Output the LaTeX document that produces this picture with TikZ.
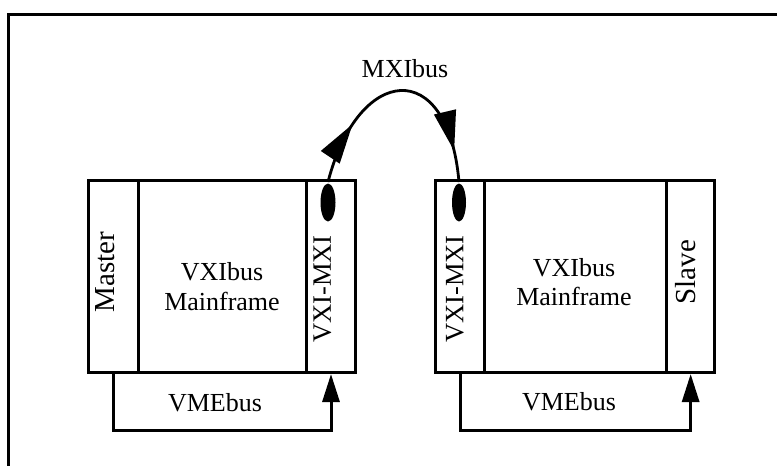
\documentclass[tikz,border=0pt]{standalone}
\usepackage{fontspec}
\setmainfont{Liberation Serif}
\usetikzlibrary{arrows.meta,decorations.markings,shapes.geometric}
\begin{document}
\begin{tikzpicture}[x=1pt,y=-1pt,line width=3pt,
  panel/.style={draw,line width=3pt,inner sep=0pt,minimum height=191.7pt,anchor=north west},
  txt/.style={inner sep=0pt,font=\fontsize{26}{30}\selectfont},
  side/.style={inner sep=0pt,rotate=90,font=\fontsize{29}{34}\selectfont},
  vmx/.style={inner sep=0pt,rotate=90,font=\fontsize{26.5}{30}\selectfont},
  plug/.style={ellipse,fill=black,draw=none,inner sep=0pt,minimum width=15pt,minimum height=38pt},
  bus/.style={line width=3pt,-{Triangle[length=28pt,width=17pt]}},
  mxi/.style={line width=2.8pt,postaction={decorate},decoration={markings,
     mark=at position 0.26 with {\arrow{Triangle[length=40pt,width=22pt]}},
     mark=at position 0.87 with {\arrow{Triangle[length=40pt,width=22pt]}}}}]
\useasboundingbox (0,0) rectangle (777,466);
% outer frame
\draw[line width=3pt] (777,14.5) -- (8.5,14.5) -- (8.5,466);
% left mainframe
\node[panel,minimum width=49.7pt] (lm) at (87.3,179.3) {};
\node[panel,minimum width=168pt] (lmain) at (137,179.3) {};
\node[panel,minimum width=49pt] (lx) at (305,179.3) {};
% right mainframe
\node[panel,minimum width=48.4pt] (rx) at (434.3,179.3) {};
\node[panel,minimum width=182.3pt] (rmain) at (482.7,179.3) {};
\node[panel,minimum width=48.3pt] (rs) at (665,179.3) {};
% labels
\node[side] (tmaster) at (105,272) {Master};
\node[side] (tslave) at (686,272) {Slave};
\node[vmx] (tlx) at (322.5,289) {VXI-MXI};
\node[vmx] (trx) at (455,289) {VXI-MXI};
\node[txt,anchor=base] (lv1) at (222,280) {VXIbus};
\node[txt,anchor=base] (lv2) at (222,310) {Mainframe};
\node[txt,anchor=base] (rv1) at (574,276) {VXIbus};
\node[txt,anchor=base] (rv2) at (574,305) {Mainframe};
\node[txt,anchor=base] (lvme) at (215,411) {VMEbus};
\node[txt,anchor=base] (rvme) at (569,410) {VMEbus};
\node[txt,anchor=base] (tmxi) at (405,77) {MXIbus};
% connectors
\node[plug] (le) at (328,202.5) {};
\node[plug,minimum width=14pt] (re) at (459,202.5) {};
\draw[mxi] (le.north) .. controls (358,65) and (448,55) .. (re.north);
\draw[bus] (lm.south) -- ++(0,56) -| (lx.south);
\draw[bus] (rx.south) -- ++(0,56) -| (rs.south);
\end{tikzpicture}
\end{document}
